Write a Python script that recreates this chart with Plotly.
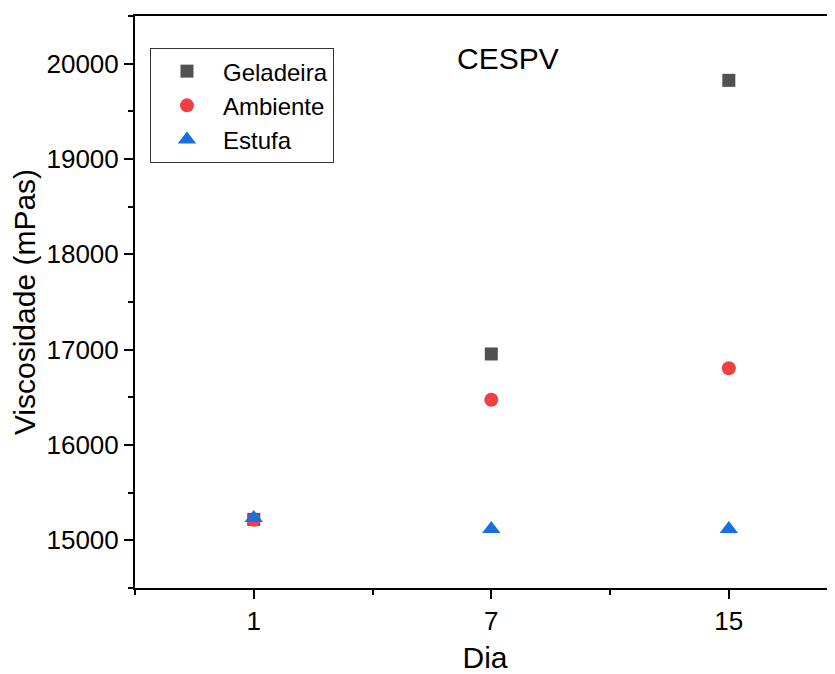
import plotly.graph_objects as go

days = ["1", "7", "15"]
positions = [1, 2, 3]
geladeira = [15220, 16955, 19825]
ambiente = [15215, 16475, 16805]
estufa = [15235, 15120, 15120]

series = [
    ("Geladeira", geladeira, "square", "#515151", 13),
    ("Ambiente", ambiente, "circle", "#F14040", 14),
    ("Estufa", estufa, "triangle-up", "#1A6FDF", 16),
]

fig = go.Figure()
for name, vals, sym, col, sz in series:
    fig.add_trace(go.Scatter(
        x=positions, y=vals, mode="markers", name=name,
        marker=dict(symbol=sym, color=col, size=sz, line=dict(width=0)),
    ))

font_family = "Liberation Sans, Arial, sans-serif"

fig.update_layout(
    width=827, height=666,
    margin=dict(l=127, r=0, t=8, b=86),
    paper_bgcolor="white", plot_bgcolor="white",
    font=dict(family=font_family, color="black", size=26),
    showlegend=True,
    legend=dict(
        x=0.0214, y=0.944, xanchor="left", yanchor="top",
        bordercolor="#333333", borderwidth=1, bgcolor="white",
        font=dict(size=24), itemwidth=62, tracegroupgap=0,
    ),
    xaxis=dict(
        range=[0.5, 3.447], tickvals=positions, ticktext=days,
        showgrid=False, zeroline=False,
        showline=True, linecolor="black", linewidth=2, mirror=True,
        ticks="outside", ticklen=9, tickwidth=2, tickcolor="black",
        tickfont=dict(size=26),
        minor=dict(tickvals=[0.5, 1.5, 2.5, 3.5], ticks="outside", ticklen=5, tickwidth=2, tickcolor="black"),
        title=dict(text="Dia", font=dict(size=30), standoff=12),
    ),
    yaxis=dict(
        range=[14500, 20500], dtick=1000, tick0=15000, tickformat="d",
        showgrid=False, zeroline=False,
        showline=True, linecolor="black", linewidth=2,
        ticks="outside", ticklen=9, tickwidth=2, tickcolor="black",
        tickfont=dict(size=26),
        minor=dict(dtick=500, tick0=14500, ticks="outside", ticklen=5, tickwidth=2, tickcolor="black"),
        title=dict(text="Viscosidade (mPas)", font=dict(size=30), standoff=2),
    ),
    annotations=[dict(
        text="CESPV", x=0.533, y=0.925, xref="paper", yref="paper",
        xanchor="center", yanchor="middle", showarrow=False,
        font=dict(size=30),
    )],
)

fig.write_html("out.html")
